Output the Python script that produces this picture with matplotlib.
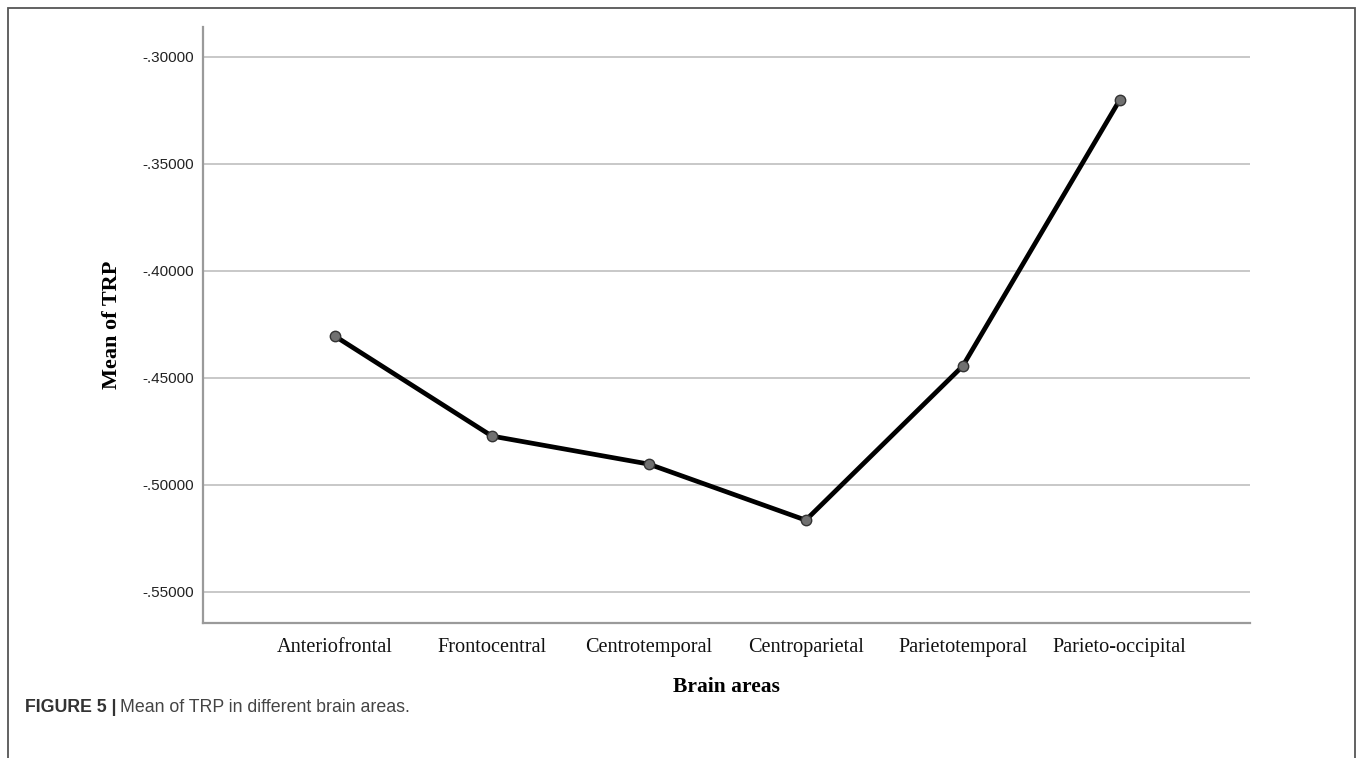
import matplotlib
matplotlib.use('Agg')
import matplotlib.pyplot as plt
from matplotlib.patches import Rectangle

# data
areas = ['Anteriofrontal', 'Frontocentral', 'Centrotemporal',
         'Centroparietal', 'Parietotemporal', 'Parieto-occipital']
mean_trp = [-0.4306, -0.4773, -0.4904, -0.5166, -0.4446, -0.3203]
yticks = [-0.30, -0.35, -0.40, -0.45, -0.50, -0.55]
ytick_labels = ['-.30000', '-.35000', '-.40000', '-.45000', '-.50000', '-.55000']

W, H = 1357, 758
fig = plt.figure(figsize=(W / 100, H / 100), dpi=100)

# outer frame of the figure panel
fig.patches.append(Rectangle((8 / W, -0.01), (1355 - 8) / W, (H - 8) / H + 0.01,
                             transform=fig.transFigure, fill=False,
                             edgecolor='#555555', linewidth=1.3))

ax = fig.add_axes([203 / W, 1 - 622.7 / H, (1250 - 203) / W, (622.7 - 27) / H])
x = list(range(len(areas)))

ax.set_ylim(-0.5645, -0.2862)
ax.set_xlim(-0.84, len(areas) - 1 + 0.83)

ax.set_yticks(yticks)
ax.set_yticklabels(ytick_labels, fontfamily='Liberation Sans', fontsize=11, color='#222222')
ax.set_xticks(x)
ax.set_xticklabels(areas, fontfamily='Liberation Serif', fontsize=14.6, color='#111111')
ax.tick_params(axis='both', length=0)
ax.tick_params(axis='y', pad=6.5)
ax.tick_params(axis='x', pad=11)

ax.grid(axis='y', color='#c8c8c8', linewidth=1.4)
ax.set_axisbelow(True)
for s in ['top', 'right']:
    ax.spines[s].set_visible(False)
for s in ['left', 'bottom']:
    ax.spines[s].set_color('#9a9a9a')
    ax.spines[s].set_linewidth(1.6)

ax.plot(x, mean_trp, color='black', linewidth=3.4, marker='o', markersize=7.5,
        markerfacecolor='#707070', markeredgecolor='#333333', markeredgewidth=1.0,
        zorder=3)

ax.set_ylabel('Mean of TRP', fontfamily='Liberation Serif', fontweight='bold',
              fontsize=16)
ax.yaxis.set_label_coords(-(203 - 122) / (1250 - 203), 0.5)
ax.set_xlabel('Brain areas', fontfamily='Liberation Serif', fontweight='bold',
              fontsize=15.5)
ax.xaxis.set_label_coords(0.5, -(677 - 622.7) / (622.7 - 27))

# caption
t1 = fig.text(25 / W, 1 - 708 / H, 'FIGURE 5 |', fontfamily='Liberation Sans',
              fontweight='bold', fontsize=12.8, color='#333333', va='center', ha='left')
fig.canvas.draw()
bb = t1.get_window_extent()
fig.text((bb.x1 + 4) / W, 1 - 708 / H, 'Mean of TRP in different brain areas.',
         fontfamily='Liberation Sans', fontsize=12.8, color='#444444', va='center', ha='left')

fig.savefig('out.png', dpi=100)
